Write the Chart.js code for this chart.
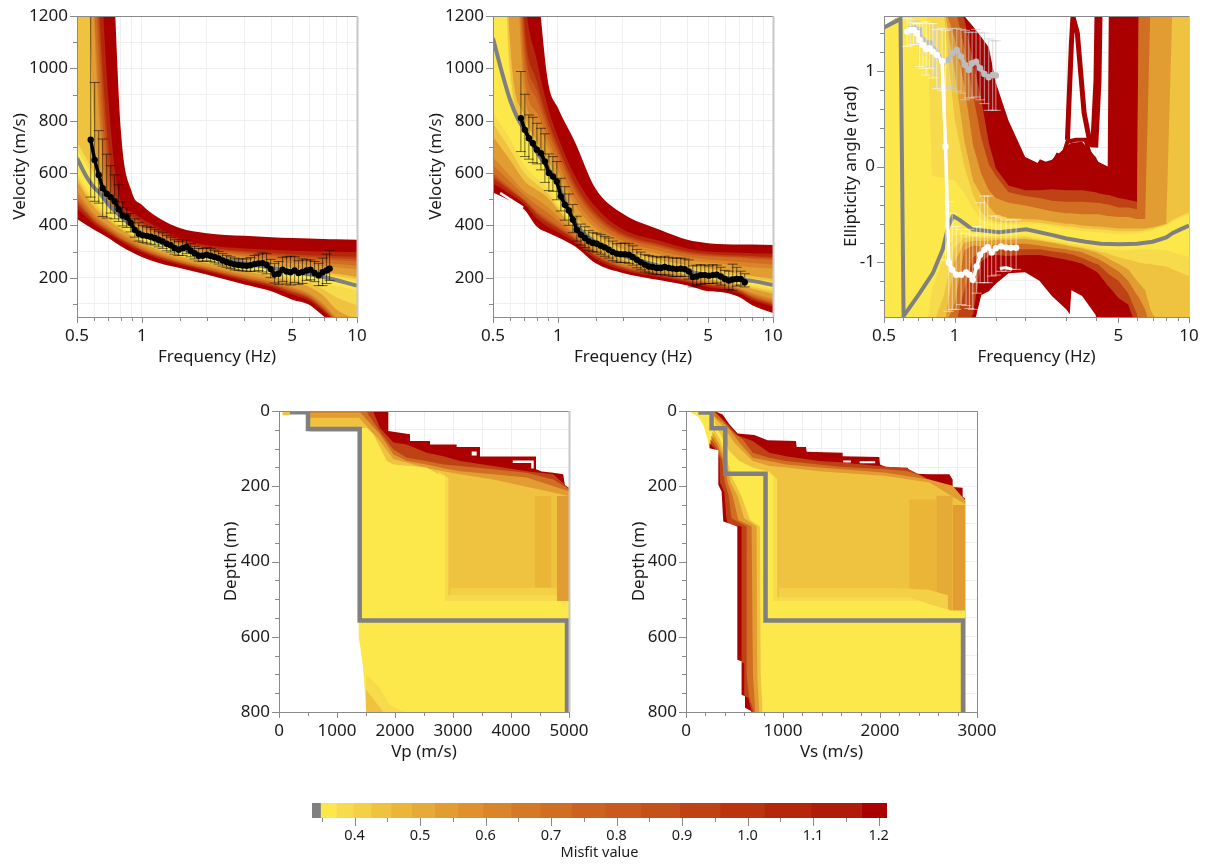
<!DOCTYPE html>
<html>
<head>
<meta charset="utf-8">
<title>Inversion results</title>
<script src="https://cdn.jsdelivr.net/npm/chart.js@4/dist/chart.umd.js"></script>
<style>
  html, body { margin: 0; padding: 0; background: #fff; }
  body { position: relative; width: 1210px; height: 865px; overflow: hidden; }
  canvas { position: absolute; }
</style>
</head>
<body>
<canvas id="rayleigh0"></canvas>
<canvas id="rayleigh1"></canvas>
<canvas id="ellipticity"></canvas>
<canvas id="vp"></canvas>
<canvas id="vs"></canvas>
<canvas id="misfit"></canvas>
<script>
// misfit colour bar
var misfitEdges = [0.335, 0.348, 0.372, 0.398, 0.4255, 0.4556, 0.487, 0.522, 0.557, 0.596, 0.639, 0.6835, 0.731, 0.7825, 0.837, 0.896, 0.958, 1.0255, 1.097, 1.174, 1.2128];
var misfitColors = ['#808080', '#fde84c', '#f7db4c', '#f3d045', '#efc33f', '#ebb638', '#e6aa36', '#e19d32', '#de912e', '#d9852a', '#d47a27', '#d06e22', '#cb6220', '#c9591c', '#c4501a', '#bf4214', '#ba340f', '#b5270b', '#b01c08', '#aa0000'];
var c = misfitColors.slice(1);

// grid of frequencies the misfit bands are read on
var bandFreq = [0.5, 0.6, 0.7, 0.8, 0.9, 1, 1.2, 1.5, 2, 3, 4, 5, 6, 7, 8, 10];

// first dispersion curve: bands
var r0Hi18 = [3000, 2500, 1800, 760, 526, 479, 428, 390, 370, 360, 355, 352, 350, 348, 347, 345];
var r0Lo18 = [424, 383, 352, 320, 297, 279, 256, 237, 212, 174, 148, 116, 97, 53, 20, 5];
var r0Hi16 = [3000, 1900, 880, 490, 450, 425, 390, 350, 325, 312, 307, 303, 301, 300, 299, 298];
var r0Lo16 = [465, 405, 368, 338, 315, 297, 272, 250, 225, 188, 165, 135, 112, 70, 30, 5];
var r0Hi14 = [3000, 1600, 700, 465, 435, 412, 382, 342, 317, 302, 295, 290, 286, 284, 282, 280];
var r0Lo14 = [482, 415, 376, 345, 322, 303, 278, 255, 230, 194, 171, 143, 120, 78, 35, 8];
var r0Hi12 = [3000, 1500, 630, 455, 428, 407, 377, 338, 313, 297, 289, 283, 279, 277, 274, 271];
var r0Lo12 = [491, 420, 380, 348, 326, 306, 281, 257, 232, 197, 174, 147, 124, 81, 37, 9];
var r0Hi10 = [3000, 1400, 560, 445, 420, 402, 372, 335, 310, 292, 283, 277, 272, 270, 267, 262];
var r0Lo10 = [500, 425, 385, 352, 330, 310, 285, 260, 235, 200, 178, 152, 128, 85, 40, 10];
var r0Hi8 = [3000, 1250, 510, 435, 412, 395, 365, 330, 305, 284, 272, 266, 260, 257, 253, 246];
var r0Lo8 = [515, 435, 392, 360, 337, 316, 290, 265, 240, 206, 184, 158, 134, 92, 45, 15];
var r0Hi6 = [3000, 1150, 480, 425, 405, 388, 358, 325, 300, 276, 262, 255, 250, 245, 240, 232];
var r0Lo6 = [530, 445, 400, 368, 345, 322, 295, 270, 245, 212, 190, 165, 140, 100, 50, 20];
var r0Hi3 = [3000, 790, 450, 410, 390, 372, 348, 315, 288, 265, 248, 238, 230, 222, 215, 203];
var r0Lo3 = [570, 470, 420, 385, 358, 335, 305, 280, 255, 225, 205, 185, 165, 130, 80, 40];
var r0Hi1 = [720, 600, 475, 415, 392, 368, 345, 312, 283, 260, 243, 232, 223, 215, 207, 194];
var r0Lo1 = [585, 485, 430, 392, 364, 341, 310, 285, 260, 231, 213, 195, 180, 155, 125, 95];
var r0Hi0 = [690, 580, 490, 425, 390, 365, 338, 308, 278, 255, 238, 226, 216, 208, 200, 185];
var r0Lo0 = [600, 500, 440, 400, 370, 348, 315, 290, 265, 238, 222, 205, 195, 180, 170, 150];
var r0BestF = [0.5, 0.55, 0.6, 0.64, 0.7, 0.8, 0.9, 1, 1.2, 1.5, 2, 3, 5, 7, 10];
var r0BestV = [657, 590, 545, 523, 480, 434, 398, 370, 337, 313, 282, 256, 224, 203, 170];
// first dispersion curve: observed
var r0F = [0.579, 0.604, 0.631, 0.658, 0.687, 0.717, 0.748, 0.781, 0.815, 0.851, 0.888, 0.927, 0.967, 1.01, 1.054, 1.10, 1.148, 1.198, 1.25, 1.305, 1.362, 1.42, 1.483, 1.548, 1.616, 1.686, 1.76, 1.837, 1.917, 2.0, 2.088, 2.18, 2.275, 2.374, 2.478, 2.586, 2.70, 2.817, 2.94, 3.07, 3.20, 3.34, 3.49, 3.64, 3.80, 3.97, 4.14, 4.32, 4.51, 4.71, 4.91, 5.13, 5.35, 5.58, 5.83, 6.08, 6.35, 6.63, 6.92, 7.22, 7.46];
var r0V = [727, 650, 593, 542, 521, 508, 492, 462, 438, 432, 409, 383, 368, 362, 360, 357, 352, 345, 339, 330, 324, 313, 307, 313, 318, 304, 294, 284, 284, 288, 284, 279, 274, 266, 260, 255, 251, 249, 247, 246, 248, 252, 255, 256, 250, 233, 213, 215, 231, 224, 221, 228, 218, 222, 228, 231, 218, 209, 221, 228, 235];
var r0Up = [1300, 946, 762, 730, 672, 628, 593, 555, 490, 468, 445, 425, 410, 400, 395, 392, 385, 378, 372, 362, 355, 345, 338, 345, 345, 330, 320, 312, 312, 315, 312, 305, 300, 292, 285, 280, 275, 272, 272, 272, 277, 285, 290, 295, 292, 270, 255, 262, 278, 280, 282, 280, 265, 272, 268, 268, 262, 255, 275, 290, 305];
var r0Down = [508, 492, 485, 434, 428, 447, 425, 415, 398, 392, 375, 355, 340, 335, 332, 328, 325, 318, 312, 303, 298, 290, 285, 285, 292, 280, 272, 264, 262, 265, 262, 257, 252, 245, 240, 235, 230, 228, 226, 225, 224, 225, 227, 222, 215, 200, 180, 175, 185, 176, 172, 182, 175, 178, 190, 192, 185, 170, 170, 178, 190];

// second dispersion curve: bands
var r1Hi18 = [3000, 2400, 1800, 1350, 950, 850, 720, 540, 445, 382, 345, 332, 328, 327, 327, 325];
var r1Lo18 = [526, 495, 460, 395, 372, 355, 320, 255, 218, 190, 170, 148, 143, 125, 95, 65];
var r1Hi16 = [3000, 2400, 1300, 1030, 850, 740, 590, 470, 385, 340, 312, 300, 297, 295, 294, 292];
var r1Lo16 = [560, 520, 480, 425, 395, 375, 335, 272, 230, 202, 183, 165, 155, 140, 115, 90];
var r1Hi14 = [3000, 2300, 1170, 950, 805, 705, 560, 447, 370, 327, 301, 291, 287, 285, 283, 280];
var r1Lo14 = [580, 532, 490, 440, 410, 387, 345, 281, 236, 207, 188, 171, 161, 146, 122, 97];
var r1Hi12 = [3000, 2250, 1110, 915, 782, 688, 545, 436, 362, 321, 295, 286, 282, 280, 277, 274];
var r1Lo12 = [590, 538, 495, 447, 417, 393, 350, 285, 239, 210, 190, 174, 164, 149, 126, 101];
var r1Hi10 = [3000, 2200, 1050, 880, 760, 670, 530, 425, 355, 315, 290, 282, 278, 276, 272, 268];
var r1Lo10 = [600, 545, 500, 455, 425, 400, 355, 290, 243, 213, 193, 177, 168, 152, 130, 105];
var r1Hi8 = [3000, 2100, 970, 830, 730, 640, 505, 407, 342, 302, 279, 270, 265, 260, 256, 251];
var r1Lo8 = [630, 567, 515, 477, 447, 417, 362, 297, 249, 219, 197, 181, 171, 156, 136, 112];
var r1Hi6 = [3000, 2000, 900, 790, 700, 610, 480, 390, 330, 290, 268, 258, 252, 245, 240, 235];
var r1Lo6 = [660, 590, 530, 500, 470, 435, 370, 305, 255, 225, 202, 185, 175, 160, 142, 120];
var r1Hi3 = [3000, 1100, 820, 720, 650, 570, 440, 365, 310, 268, 248, 235, 225, 215, 207, 195];
var r1Lo3 = [740, 650, 570, 535, 505, 460, 385, 318, 268, 235, 210, 193, 183, 172, 158, 140];
var r1Hi1 = [3000, 1000, 790, 695, 625, 545, 422, 345, 298, 257, 236, 223, 213, 205, 197, 185];
var r1Lo1 = [790, 690, 600, 557, 522, 470, 390, 322, 274, 237, 212, 196, 187, 177, 165, 150];
var r1Hi0 = [3000, 950, 770, 680, 610, 530, 410, 335, 290, 250, 228, 215, 205, 197, 190, 178];
var r1Lo0 = [830, 730, 630, 580, 540, 480, 395, 325, 280, 240, 215, 200, 192, 183, 172, 160];
var r1BestF = [0.5, 0.55, 0.6, 0.65, 0.7, 0.8, 0.9, 1, 1.2, 1.5, 2, 3, 4, 5, 6, 7, 8, 10];
var r1BestV = [1115, 985, 880, 810, 765, 680, 620, 555, 410, 335, 285, 245, 225, 210, 200, 193, 188, 172];
var r1SliverF = [0.54, 0.6, 0.69];
var r1SliverV = [524, 500, 468];
// second dispersion curve: observed
var r1F = [0.674, 0.703, 0.734, 0.766, 0.80, 0.835, 0.871, 0.909, 0.949, 0.990, 1.033, 1.078, 1.125, 1.175, 1.226, 1.28, 1.336, 1.394, 1.455, 1.518, 1.585, 1.654, 1.726, 1.80, 1.88, 1.962, 2.05, 2.14, 2.23, 2.33, 2.43, 2.54, 2.65, 2.76, 2.88, 3.01, 3.14, 3.28, 3.42, 3.57, 3.73, 3.89, 4.06, 4.24, 4.42, 4.62, 4.82, 5.03, 5.25, 5.48, 5.72, 5.97, 6.23, 6.50, 6.78, 7.08, 7.39];
var r1V = [810, 765, 733, 714, 689, 676, 644, 600, 587, 568, 511, 479, 457, 422, 383, 364, 352, 339, 333, 330, 322, 316, 307, 298, 292, 290, 290, 288, 279, 269, 259, 250, 243, 241, 237, 237, 241, 237, 235, 233, 235, 233, 224, 203, 205, 210, 210, 208, 210, 212, 205, 195, 189, 193, 195, 195, 183];
var r1Up = [988, 901, 822, 813, 790, 771, 750, 673, 663, 644, 580, 548, 520, 480, 435, 405, 395, 380, 372, 370, 365, 358, 352, 340, 330, 332, 332, 330, 322, 308, 298, 288, 285, 282, 280, 278, 282, 278, 275, 275, 275, 272, 268, 245, 248, 250, 248, 245, 250, 248, 240, 228, 225, 252, 240, 225, 215];
var r1Down = [682, 663, 653, 640, 635, 612, 564, 533, 530, 498, 455, 420, 400, 372, 340, 325, 315, 305, 300, 298, 290, 282, 275, 265, 260, 258, 258, 255, 248, 238, 230, 222, 218, 215, 212, 212, 210, 210, 205, 205, 205, 205, 195, 165, 172, 175, 178, 178, 178, 180, 172, 155, 155, 152, 168, 172, 165];

// ellipticity: bands, on a denser grid since the edges are sharp here
var ellFreq = [0.5, 0.6, 0.7, 0.76, 0.8, 0.9, 1, 1.1, 1.2, 1.3, 1.4, 1.5, 1.7, 2, 2.3, 2.6, 3, 3.1, 3.15, 3.5, 4, 4.1, 4.5, 4.55, 5, 5.5, 6, 6.1, 6.5, 6.85, 7, 8, 8.5, 10];
var eHi18 = [1.47, 1.6, 1.7, 1.7, 1.7, 1.7, 1.7, 1.58, 1.47, 1.36, 1.25, 0.88, 0.48, 0.1, 0.03, 0.07, 0.21, 0.24, 0.25, 0.26, 0.1, 0.05, 0, 1.7, 1.7, 1.7, 1.7, 1.7, 1.7, 1.7, 1.7, 1.7, 1.7, 1.7];
var eLo18 = [-1.7, -1.7, -1.7, -1.7, -1.7, -1.7, -1.7, -1.7, -1.7, -1.35, -1.31, -1.23, -1.12, -1.11, -1.2, -1.36, -1.5, -1.55, -1.3, -1.36, -1.56, -1.7, -1.7, -1.7, -1.7, -1.7, -1.7, -1.7, -1.7, -1.7, -1.7, -1.7, -1.7, -1.7];
var eHi14 = [1.47, 1.6, 1.7, 1.7, 1.7, 1.7, 1.7, 1.55, 1.1, 0.7, 0.25, -0.02, -0.2, -0.25, -0.25, -0.24, -0.25, -0.25, -0.25, -0.25, -0.27, -0.28, -0.3, -0.3, -0.33, -0.35, -0.37, 1.7, 1.7, 1.7, 1.7, 1.7, 1.7, 1.7];
var eLo14 = [-1.7, -1.7, -1.7, -1.7, -1.7, -1.7, -1.7, -1.7, -1.55, -1.0, -0.94, -0.93, -0.94, -0.93, -0.93, -0.95, -0.98, -0.99, -0.99, -1.02, -1.1, -1.12, -1.25, -1.26, -1.38, -1.45, -1.7, -1.7, -1.7, -1.7, -1.7, -1.7, -1.7, -1.7];
var eHi10 = [1.47, 1.6, 1.7, 1.7, 1.7, 1.7, 1.7, 1.25, 0.75, 0.3, 0.02, -0.1, -0.27, -0.31, -0.33, -0.36, -0.37, -0.37, -0.37, -0.37, -0.38, -0.38, -0.4, -0.4, -0.43, -0.43, -0.45, 1.7, 1.7, 1.7, 1.7, 1.7, 1.7, 1.7];
var eLo10 = [-1.7, -1.7, -1.7, -1.7, -1.7, -1.7, -1.7, -1.3, -0.95, -0.9, -0.88, -0.87, -0.87, -0.87, -0.87, -0.89, -0.91, -0.92, -0.92, -0.96, -1.02, -1.03, -1.12, -1.13, -1.2, -1.33, -1.55, -1.7, -1.7, -1.7, -1.7, -1.7, -1.7, -1.7];
var eHi6 = [1.47, 1.6, 1.7, 1.7, 1.7, 1.7, 1.35, 0.85, 0.22, -0.08, -0.25, -0.33, -0.38, -0.41, -0.44, -0.47, -0.49, -0.49, -0.49, -0.5, -0.5, -0.5, -0.52, -0.52, -0.53, -0.53, -0.55, -0.55, -0.55, 1.7, 1.7, 1.7, 1.7, 1.7];
var eLo6 = [-1.7, -1.7, -1.7, -1.7, -1.7, -1.7, -1.45, -0.88, -0.83, -0.84, -0.83, -0.82, -0.81, -0.81, -0.83, -0.85, -0.87, -0.88, -0.88, -0.9, -0.96, -0.97, -1.03, -1.04, -1.1, -1.2, -1.35, -1.37, -1.5, -1.7, -1.7, -1.7, -1.7, -1.7];
var eHi3 = [1.47, 1.6, 1.7, 1.7, 1.7, 1.7, 1.0, 0.27, -0.15, -0.3, -0.42, -0.5, -0.54, -0.55, -0.56, -0.58, -0.6, -0.6, -0.6, -0.62, -0.63, -0.63, -0.64, -0.64, -0.65, -0.65, -0.65, -0.65, -0.65, -0.64, -0.64, -0.6, 1.7, 1.7];
var eLo3 = [-1.7, -1.7, -1.7, -1.7, -1.7, -1.7, -1.0, -0.8, -0.78, -0.78, -0.78, -0.77, -0.77, -0.76, -0.78, -0.8, -0.83, -0.84, -0.84, -0.86, -0.9, -0.91, -0.96, -0.97, -1.02, -1.08, -1.2, -1.22, -1.3, -1.5, -1.55, -1.7, -1.7, -1.7];
var eHi1 = [1.47, 1.6, 1.7, 1.7, 1.7, 1.6, 0.5, 0, -0.3, -0.48, -0.55, -0.58, -0.59, -0.58, -0.59, -0.61, -0.63, -0.63, -0.63, -0.65, -0.66, -0.66, -0.67, -0.67, -0.68, -0.68, -0.68, -0.68, -0.67, -0.66, -0.65, -0.61, -0.56, -0.48];
var eLo1 = [-1.7, -1.7, -1.7, -1.7, -1.7, -1.35, -0.85, -0.75, -0.74, -0.75, -0.75, -0.75, -0.75, -0.74, -0.77, -0.79, -0.82, -0.83, -0.83, -0.85, -0.88, -0.89, -0.91, -0.92, -0.95, -0.98, -1.0, -1.01, -1.02, -1.02, -1.03, -1.05, -1.08, -1.15];
var eHi0 = [1.47, 1.6, 1.7, 1.7, -0.1, -0.12, -0.15, -0.28, -0.45, -0.55, -0.58, -0.6, -0.61, -0.6, -0.61, -0.63, -0.66, -0.66, -0.66, -0.68, -0.69, -0.69, -0.7, -0.7, -0.71, -0.71, -0.7, -0.7, -0.69, -0.68, -0.67, -0.62, -0.58, -0.5];
var eLo0 = [-1.7, -1.7, -1.7, -1.7, -1.3, -0.95, -0.72, -0.72, -0.72, -0.73, -0.73, -0.73, -0.73, -0.72, -0.75, -0.77, -0.8, -0.81, -0.81, -0.83, -0.85, -0.86, -0.87, -0.87, -0.88, -0.88, -0.87, -0.87, -0.87, -0.87, -0.87, -0.88, -0.9, -0.95];
// thin dark curves that stick out of the upper band
var eSpikeF = [3.03, 3.15, 3.2, 3.34, 3.57, 3.81];
var eSpikeV = [0.28, 1.29, 1.57, 1.40, 0.56, 0.21];
var eArchF = [2.22, 2.33, 2.49, 2.62, 2.75, 2.89, 3.03, 3.29, 3.62, 3.81];
var eArchV = [-0.03, 0.05, 0.02, 0.03, 0.12, 0.10, 0.26, 0.28, 0.28, 0.10];
var eSpike2F = [4.11, 4.07, 3.94];
var eSpike2V = [1.57, 0.9, 0.2];
var eHoleF = [1.56, 1.66, 1.76];
var eHoleV = [-1.07, -1.06, -1.08];
var eBestF = [0.5, 0.588, 0.606, 0.71, 0.808, 0.89, 0.94, 0.985, 1.05, 1.19, 1.55, 2.02, 2.62, 3, 3.62, 4.2, 5.03, 6, 7, 8, 8.5, 9.2, 10];
var eBestV = [1.46, 1.55, -1.57, -1.33, -1.12, -0.87, -0.63, -0.52, -0.56, -0.66, -0.69, -0.66, -0.72, -0.755, -0.79, -0.81, -0.815, -0.81, -0.79, -0.745, -0.70, -0.66, -0.62];
// ellipticity: observed, peak (white) and trough (light grey)
var ePeakF = [0.628, 0.647, 0.669, 0.691, 0.709, 0.733, 0.757, 0.782, 0.808, 0.840, 0.885, 0.915, 0.945, 0.977, 1.016, 1.066, 1.12, 1.157, 1.196, 1.243, 1.285, 1.34, 1.385, 1.44, 1.50, 1.578, 1.657, 1.74, 1.83];
var ePeakV = [1.416, 1.434, 1.434, 1.399, 1.329, 1.276, 1.234, 1.241, 1.206, 1.171, 1.108, 0.21, -1.007, -1.084, -1.136, -1.136, -1.112, -1.136, -1.189, -1.049, -0.927, -0.874, -0.846, -0.902, -0.857, -0.839, -0.85, -0.853, -0.853];
var ePeakUp = [1.556, 1.54, 1.51, 1.50, 1.50, 1.51, 1.52, 1.50, 1.50, 1.44, 1.45, 1.43, -0.37, -0.49, -0.63, -0.66, -0.70, -0.66, -0.72, -0.63, -0.38, -0.31, -0.31, -0.52, -0.52, -0.54, -0.56, -0.56, -0.56];
var ePeakDown = [1.26, 1.27, 1.28, 1.28, 1.05, 1.03, 0.96, 1.03, 0.93, 0.82, 0.80, -0.98, -1.52, -1.5, -1.5, -1.45, -1.46, -1.49, -1.5, -1.33, -1.22, -1.22, -1.22, -1.15, -1.14, -1.1, -1.1, -1.08, -1.08];
var eOtherF = [0.647, 0.675, 0.705, 0.733, 0.787, 0.821, 0.857, 0.897, 0.936, 0.977, 1.022, 1.066, 1.109, 1.15, 1.188, 1.235, 1.285, 1.34, 1.398, 1.454, 1.50];
var eOtherV = [1.444, 1.451, 1.434, 1.329, 1.294, 1.224, 1.154, 1.101, 1.119, 1.189, 1.224, 1.154, 1.066, 1.014, 1.084, 1.101, 1.031, 0.972, 0.937, 0.962, 0.955];
var eOtherUp = [1.54, 1.53, 1.52, 1.50, 1.52, 1.50, 1.45, 1.44, 1.44, 1.45, 1.45, 1.44, 1.43, 1.41, 1.41, 1.44, 1.41, 1.40, 1.34, 1.32, 1.32];
var eOtherDown = [1.27, 1.27, 1.28, 1.17, 1.05, 0.96, 0.84, 0.82, 0.84, 0.82, 0.79, 0.77, 0.70, 0.72, 0.72, 0.73, 0.70, 0.66, 0.59, 0.59, 0.59];

// Vp profile: each edge is velocity -> depth, painted down to 800 m
var vpDarkX = [530, 1885, 1885, 2258, 2258, 2603, 2603, 3063, 3063, 3466, 3466, 4431, 4431, 4530, 4730, 4900, 4930, 5000];
var vpDarkD = [0, 0, 53, 62, 80, 80, 89, 89, 96, 96, 121, 121, 155, 161, 164, 168, 199, 204];
var vpC14X = [530, 1620, 1742, 1972, 2201, 2546, 2834, 3121, 3696, 4270, 4730, 5000];
var vpC14D = [0, 0, 45, 84, 89, 111, 120, 133, 146, 160, 168, 206];
var vpC10X = [530, 1500, 1742, 1972, 2201, 2546, 2834, 3121, 3696, 4270, 4730, 5000];
var vpC10D = [0, 0, 55, 102, 124, 133, 142, 146, 155, 164, 182, 208];
var vpC6X = [530, 1400, 1742, 1972, 2201, 2546, 2834, 3121, 3696, 4270, 5000];
var vpC6D = [4, 4, 62, 115, 133, 142, 152, 160, 168, 177, 213];
var vpC3X = [530, 1380, 1742, 1972, 2201, 2546, 2834, 3121, 3696, 5000];
var vpC3D = [18, 18, 80, 128, 137, 152, 160, 168, 182, 226];
var vpStripe4X = [4414, 4700];
var vpStripe4D = [226, 226];
var vpStripe6X = [4790, 5000];
var vpStripe6D = [226, 226];
var vpC2X = [2950, 4790];
var vpC2D = [470, 470];
var vpC1X = [2748, 2920, 2920, 4790];
var vpC1D = [160, 178, 490, 490];
var vpC0X = [530, 1380, 1512, 1627, 1742, 1857, 1972, 2546, 2748, 2862, 2862, 5000];
var vpC0D = [46, 46, 45, 62, 97, 133, 142, 150, 168, 172, 505, 505];
var vpPatch1X = [1500, 1736, 1908, 2138, 2200];
var vpPatch1D = [700, 736, 780, 798, 800];
var vpPatch3X = [1500, 1650, 1800];
var vpPatch3D = [740, 770, 800];
var vpWhiteX = [0, 525, 525, 1374, 1374, 1420, 1450, 1505, 1505];
var vpWhiteD = [0, 0, 56, 56, 600, 648, 683, 798, 800];
var vpTopBitX = [57, 184];
var vpTopBitD = [0, 0];
var vpHoleX = [4030, 4370, 4370];
var vpHoleD = [135, 135, 153];
var vpHole2X = [3322, 3408];
var vpHole2D = [113, 113];
var vpBestX = [184, 500, 500, 1391, 1391, 4966, 4966];
var vpBestD = [3, 3, 48, 48, 557, 557, 800];

// Vs profile
var vsDarkX = [0, 292, 378, 447, 533, 704, 842, 1134, 1141, 1237, 1244, 1615, 1615, 1993, 2000, 2062, 2285, 2302, 2371, 2508, 2714, 2749, 2749, 2852, 2852, 2879];
var vsDarkD = [0, 0, 9, 35, 60, 64, 78, 80, 96, 96, 108, 111, 120, 122, 142, 149, 151, 160, 167, 168, 168, 182, 202, 204, 229, 232];
var vsC14X = [0, 292, 447, 533, 687, 859, 1031, 1374, 1615, 1993, 2285, 2400, 2508, 2749, 2852, 2879];
var vsC14D = [0, 0, 40, 65, 80, 111, 120, 133, 137, 146, 153, 168, 182, 204, 229, 233];
var vsC10X = [0, 300, 430, 500, 584, 687, 859, 1031, 1374, 1615, 2062, 2285, 2400, 2508, 2749, 2852, 2879];
var vsC10D = [3, 3, 40, 60, 75, 111, 124, 133, 142, 149, 155, 160, 170, 184, 208, 232, 235];
var vsC6X = [0, 300, 420, 480, 550, 687, 859, 1031, 1374, 2062, 2508, 2749, 2879];
var vsC6D = [15, 15, 40, 60, 84, 124, 133, 142, 150, 164, 182, 199, 238];
var vsC3X = [0, 290, 400, 460, 515, 687, 859, 1031, 1374, 2062, 2508, 2879];
var vsC3D = [18, 18, 45, 70, 89, 133, 146, 150, 160, 173, 190, 248];
var vsStripe4X = [2300, 2580];
var vsStripe4D = [235, 235];
var vsStripe5X = [2580, 2750];
var vsStripe5D = [225, 225];
var vsStripe6X = [2750, 2880];
var vsStripe6D = [250, 250];
var vsC2X = [960, 2100, 2500, 2700];
var vsC2D = [470, 470, 475, 490];
var vsC1X = [842, 940, 940, 2300, 2600, 2720];
var vsC1D = [158, 180, 495, 495, 520, 528];
var vsC0X = [0, 285, 300, 447, 550, 687, 842, 900, 900, 2400, 2720, 2880];
var vsC0D = [0, 0, 35, 106, 133, 150, 161, 172, 505, 505, 530, 530];
// lower left edges, painted from the inside out
var vsEdge3X = [280, 350, 400, 480, 570, 660, 762, 770, 790];
var vsEdge3D = [45, 75, 110, 180, 225, 290, 307, 700, 800];
var vsEdge6X = [270, 340, 400, 460, 530, 600, 728, 735, 755];
var vsEdge6D = [55, 85, 125, 190, 225, 285, 307, 700, 800];
var vsEdge10X = [260, 325, 385, 430, 480, 540, 676, 690, 715];
var vsEdge10D = [65, 90, 130, 190, 225, 290, 307, 700, 800];
var vsEdge14X = [250, 310, 370, 400, 440, 470, 625, 625, 650, 700];
var vsEdge14D = [75, 95, 130, 190, 225, 285, 307, 700, 760, 800];
var vsEdge18X = [240, 300, 345, 350, 395, 415, 430, 573, 573, 600, 600, 640, 680];
var vsEdge18D = [85, 100, 125, 190, 215, 280, 300, 307, 670, 670, 757, 762, 800];
var vsWhiteX = [0, 24, 127, 178, 220, 240, 333, 333, 367, 384, 529, 529, 573, 573, 608, 608, 676];
var vsWhiteD = [0, 0, 15, 37, 73, 99, 104, 196, 214, 294, 307, 661, 665, 754, 758, 789, 798];
var vsHoleX = [1620, 1700, null, 1790, 1950];
var vsHoleD = [134, 134, null, 136, 136];
var vsBestX = [127, 264, 264, 405, 405, 820, 820, 2856, 2856];
var vsBestD = [4, 4, 46, 46, 167, 167, 557, 557, 800];

var textColor = '#1a1a1a';
var axisColor = '#8a8a8a';
var gridColor = '#efefef';
var fontName = '"Noto Sans", sans-serif';
var bestGrey = '#808080';

function pts(xs, ys) {
  return xs.map(function(x, i) { return {x: x, y: ys[i]}; });
}

function band(xs, hi, lo, color, smooth) {
  var a = {data: pts(xs, hi), fill: '+1', backgroundColor: color, borderWidth: 0, showLine: true, pointRadius: 0};
  var b = {data: pts(xs, lo), fill: false, borderWidth: 0, showLine: true, pointRadius: 0};
  if (smooth) { a.cubicInterpolationMode = 'monotone'; b.cubicInterpolationMode = 'monotone'; }
  return [a, b];
}

// painted from the edge down to the bottom of the plot
function edge(xs, ds, color, target) {
  return {data: pts(xs, ds), fill: target || 'start', backgroundColor: color, borderWidth: 0, showLine: true, pointRadius: 0};
}

function stroke(xs, ys, color, width, smooth) {
  var d = {data: pts(xs, ys), fill: false, borderColor: color, borderWidth: width, showLine: true, pointRadius: 0, borderJoinStyle: 'miter', spanGaps: false};
  if (smooth) d.cubicInterpolationMode = 'monotone';
  return d;
}

function errorBars(xs, down, up, color) {
  var p = [];
  for (var i = 0; i < xs.length; i++) {
    p.push({x: xs[i], y: down[i]}, {x: xs[i], y: up[i]}, {x: xs[i], y: null});
  }
  return {data: p, fill: false, showLine: true, spanGaps: false, borderColor: color, borderWidth: 1, pointStyle: 'line', pointRadius: 5, pointBorderColor: color, pointBorderWidth: 1, pointBackgroundColor: color};
}

function curve(xs, ys, color) {
  return {data: pts(xs, ys), fill: false, showLine: true, borderColor: color, borderWidth: 3.5, pointRadius: 3.2, pointBorderWidth: 0, pointBackgroundColor: color};
}

// frame and tick marks, the plain grid ticks can only have one length
var tickMarks = {
  id: 'tickMarks',
  afterDraw: function(chart, args, opts) {
    var ctx = chart.ctx, a = chart.chartArea;
    ctx.save();
    ctx.lineWidth = 1;
    ctx.strokeStyle = axisColor;
    ['x', 'y'].forEach(function(id) {
      var s = chart.scales[id];
      if (!s.options.display) return;
      var len = opts[id];
      s.ticks.forEach(function(t, i) {
        var p = Math.round(s.getPixelForTick(i)) + 0.5;
        var l = t.label !== '' ? len[0] : len[1];
        ctx.beginPath();
        if (id === 'x') { ctx.moveTo(p, a.bottom); ctx.lineTo(p, a.bottom + l); }
        else { ctx.moveTo(a.left, p); ctx.lineTo(a.left - l, p); }
        ctx.stroke();
      });
    });
    if (opts.frame) {
      ctx.beginPath();
      ctx.moveTo(a.left + 0.5, a.top);
      ctx.lineTo(a.left + 0.5, a.bottom + 0.5);
      ctx.lineTo(a.right, a.bottom + 0.5);
      ctx.moveTo(a.left, a.top + 0.5);
      ctx.lineTo(a.right, a.top + 0.5);
      ctx.stroke();
      ctx.strokeStyle = opts.rightColor;
      ctx.lineWidth = opts.rightWidth;
      ctx.beginPath();
      ctx.moveTo(a.right + 0.5, a.top);
      ctx.lineTo(a.right + 0.5, a.bottom);
      ctx.stroke();
    }
    ctx.restore();
  }
};

function fixScale(size, key) {
  return function(s) {
    s[key] = size;
    s.paddingLeft = 0; s.paddingRight = 0; s.paddingTop = 0; s.paddingBottom = 0;
  };
}

var TOP_PAD = 12, RIGHT_PAD = 26;

function place(id, box) {
  var el = document.getElementById(id);
  el.width = box.leftW + (box.r - box.l) + RIGHT_PAD;
  el.height = TOP_PAD + (box.b - box.t) + box.botH;
  el.style.left = (box.l - box.leftW) + 'px';
  el.style.top = (box.t - TOP_PAD) + 'px';
  return el.getContext('2d');
}

function panel(id, box, datasets, xAxis, yAxis, rightColor, rightWidth) {
  // later datasets go on top
  datasets.forEach(function(d, i) { d.order = datasets.length - i; });
  var ctx = place(id, box);
  var tickFont = {family: fontName, size: 17};
  xAxis.position = 'bottom';
  xAxis.afterFit = fixScale(box.botH, 'height');
  xAxis.border = {display: false};
  xAxis.grid = {color: gridColor, drawTicks: false};
  xAxis.ticks = Object.assign({font: tickFont, color: textColor, padding: 9, autoSkip: false, maxRotation: 0, minRotation: 0, includeBounds: false}, xAxis.ticks);
  xAxis.title = {display: true, text: xAxis.label, font: tickFont, color: textColor, padding: 0};
  yAxis.position = 'left';
  yAxis.afterFit = fixScale(box.leftW, 'width');
  yAxis.border = {display: false};
  yAxis.grid = {color: gridColor, drawTicks: false};
  yAxis.ticks = Object.assign({font: tickFont, color: textColor, padding: 9, autoSkip: false, includeBounds: false}, yAxis.ticks);
  yAxis.title = {display: true, text: yAxis.label, font: tickFont, color: textColor, padding: 0};
  return new Chart(ctx, {
    type: 'scatter',
    data: {datasets: datasets},
    options: {
      responsive: false,
      animation: false,
      events: [],
      layout: {padding: {top: TOP_PAD, right: RIGHT_PAD, left: 0, bottom: 0}},
      elements: {line: {tension: 0}},
      scales: {x: xAxis, y: yAxis},
      plugins: {
        legend: {display: false},
        tooltip: {enabled: false},
        tickMarks: {x: [6, 4], y: [7, 4], frame: true, rightColor: rightColor, rightWidth: rightWidth}
      }
    },
    plugins: [tickMarks]
  });
}

function freqAxis() {
  return {
    type: 'logarithmic', min: 0.5, max: 10, label: 'Frequency (Hz)',
    ticks: {callback: function(v) { return [0.5, 1, 5, 10].indexOf(v) >= 0 ? String(v) : ''; }}
  };
}

function velocityAxis() {
  return {
    type: 'linear', min: 50, max: 1200, label: 'Velocity (m/s)',
    ticks: {stepSize: 100, callback: function(v) { return v % 200 === 0 ? String(v) : ''; }}
  };
}

function depthAxis() {
  return {
    type: 'linear', min: 0, max: 800, reverse: true, label: 'Depth (m)',
    ticks: {stepSize: 50, callback: function(v) { return v % 200 === 0 ? String(v) : ''; }}
  };
}

function init() {
  var r0 = [].concat(
    band(bandFreq, r0Hi18, r0Lo18, c[18], true),
    band(bandFreq, r0Hi16, r0Lo16, c[16], true),
    band(bandFreq, r0Hi14, r0Lo14, c[14], true),
    band(bandFreq, r0Hi12, r0Lo12, c[12], true),
    band(bandFreq, r0Hi10, r0Lo10, c[10], true),
    band(bandFreq, r0Hi8, r0Lo8, c[8], true),
    band(bandFreq, r0Hi6, r0Lo6, c[6], true),
    band(bandFreq, r0Hi3, r0Lo3, c[3], true),
    band(bandFreq, r0Hi1, r0Lo1, c[1], true),
    band(bandFreq, r0Hi0, r0Lo0, c[0], true),
    [stroke(r0BestF, r0BestV, bestGrey, 4, true),
     errorBars(r0F, r0Down, r0Up, 'rgba(0,0,0,0.55)'),
     curve(r0F, r0V, '#000')]
  );
  panel('rayleigh0', {l: 77, r: 357, t: 16, b: 317, leftW: 67, botH: 50}, r0, freqAxis(), velocityAxis(), '#c8c8c8', 2);

  var r1 = [].concat(
    band(bandFreq, r1Hi18, r1Lo18, c[18], true),
    [stroke(r1SliverF, r1SliverV, '#fff', 2.5)],
    band(bandFreq, r1Hi16, r1Lo16, c[16], true),
    band(bandFreq, r1Hi14, r1Lo14, c[14], true),
    band(bandFreq, r1Hi12, r1Lo12, c[12], true),
    band(bandFreq, r1Hi10, r1Lo10, c[10], true),
    band(bandFreq, r1Hi8, r1Lo8, c[8], true),
    band(bandFreq, r1Hi6, r1Lo6, c[6], true),
    band(bandFreq, r1Hi3, r1Lo3, c[3], true),
    band(bandFreq, r1Hi1, r1Lo1, c[1], true),
    band(bandFreq, r1Hi0, r1Lo0, c[0], true),
    [stroke(r1BestF, r1BestV, bestGrey, 4, true),
     errorBars(r1F, r1Down, r1Up, 'rgba(0,0,0,0.55)'),
     curve(r1F, r1V, '#000')]
  );
  panel('rayleigh1', {l: 493, r: 773, t: 16, b: 317, leftW: 67, botH: 50}, r1, freqAxis(), velocityAxis(), '#c8c8c8', 2);

  var ell = [].concat(
    band(ellFreq, eHi18, eLo18, c[18]),
    [stroke(eSpikeF, eSpikeV, c[18], 5),
     stroke(eArchF, eArchV, c[18], 4),
     stroke(eSpike2F, eSpike2V, c[18], 8),
     stroke(eHoleF, eHoleV, '#fff', 3)],
    band(ellFreq, eHi14, eLo14, c[14]),
    band(ellFreq, eHi10, eLo10, c[10]),
    band(ellFreq, eHi6, eLo6, c[6]),
    band(ellFreq, eHi3, eLo3, c[3]),
    band(ellFreq, eHi1, eLo1, c[1]),
    band(ellFreq, eHi0, eLo0, c[0]),
    [stroke(eBestF, eBestV, bestGrey, 4),
     errorBars(eOtherF, eOtherDown, eOtherUp, 'rgba(205,205,205,0.7)'),
     curve(eOtherF, eOtherV, '#bdbdbd'),
     errorBars(ePeakF, ePeakDown, ePeakUp, 'rgba(255,255,255,0.55)'),
     curve(ePeakF, ePeakV, '#fff')]
  );
  panel('ellipticity', {l: 884, r: 1189, t: 16, b: 317, leftW: 43, botH: 50}, ell, freqAxis(), {
    type: 'linear', min: -1.58, max: 1.58, label: 'Ellipticity angle (rad)',
    ticks: {stepSize: 0.2, callback: function(v) { return Math.abs(v - Math.round(v)) < 1e-6 ? String(Math.round(v)) : ''; }}
  }, '#c8c8c8', 1);

  var vp = [
    edge(vpDarkX, vpDarkD, c[18]),
    stroke(vpHoleX, vpHoleD, '#fff', 2.5),
    stroke(vpHole2X, vpHole2D, '#fff', 4),
    edge(vpC14X, vpC14D, c[14]),
    edge(vpC10X, vpC10D, c[10]),
    edge(vpC6X, vpC6D, c[6]),
    edge(vpC3X, vpC3D, c[3]),
    edge(vpStripe4X, vpStripe4D, c[4]),
    edge(vpStripe6X, vpStripe6D, c[6]),
    edge(vpC2X, vpC2D, c[2]),
    edge(vpC1X, vpC1D, c[1]),
    edge(vpC0X, vpC0D, c[0]),
    edge(vpPatch1X, vpPatch1D, c[1]),
    edge(vpPatch3X, vpPatch3D, c[3]),
    edge(vpWhiteX, vpWhiteD, '#fff'),
    edge(vpTopBitX, vpTopBitD, c[3], {value: 11}),
    stroke(vpBestX, vpBestD, bestGrey, 4.5)
  ];
  panel('vp', {l: 279, r: 569, t: 411, b: 712, leftW: 58, botH: 50}, vp, {
    type: 'linear', min: 0, max: 5000, label: 'Vp (m/s)',
    ticks: {stepSize: 500, callback: function(v) { return v % 1000 === 0 ? String(v) : ''; }}
  }, depthAxis(), '#c8c8c8', 2);

  var vs = [
    edge(vsDarkX, vsDarkD, c[18]),
    stroke(vsHoleX, vsHoleD, '#fff', 2),
    edge(vsC14X, vsC14D, c[14]),
    edge(vsC10X, vsC10D, c[10]),
    edge(vsC6X, vsC6D, c[6]),
    edge(vsC3X, vsC3D, c[3]),
    edge(vsStripe4X, vsStripe4D, c[4]),
    edge(vsStripe5X, vsStripe5D, c[5]),
    edge(vsStripe6X, vsStripe6D, c[6]),
    edge(vsC2X, vsC2D, c[2]),
    edge(vsC1X, vsC1D, c[1]),
    edge(vsC0X, vsC0D, c[0]),
    edge(vsEdge3X, vsEdge3D, c[3]),
    edge(vsEdge6X, vsEdge6D, c[6]),
    edge(vsEdge10X, vsEdge10D, c[10]),
    edge(vsEdge14X, vsEdge14D, c[14]),
    edge(vsEdge18X, vsEdge18D, c[18]),
    edge(vsWhiteX, vsWhiteD, '#fff'),
    stroke(vsBestX, vsBestD, bestGrey, 4.5)
  ];
  panel('vs', {l: 686, r: 977, t: 411, b: 712, leftW: 57, botH: 50}, vs, {
    type: 'linear', min: 0, max: 3000, label: 'Vs (m/s)',
    ticks: {stepSize: 200, callback: function(v) { return v % 1000 === 0 ? String(v) : ''; }}
  }, depthAxis(), axisColor, 1);

  drawMisfitBar();
}

function drawMisfitBar() {
  var box = {l: 312, r: 887, t: 803, b: 818, leftW: 0, botH: 44};
  var ctx = place('misfit', box);
  var font = {family: fontName, size: 14.5};
  var bars = misfitColors.map(function(col, i) {
    return {data: [[misfitEdges[i], misfitEdges[i + 1]]], backgroundColor: col, borderWidth: 0, barPercentage: 1, categoryPercentage: 1, grouped: false};
  });
  new Chart(ctx, {
    type: 'bar',
    data: {labels: [''], datasets: bars},
    options: {
      indexAxis: 'y',
      responsive: false,
      animation: false,
      events: [],
      layout: {padding: {top: TOP_PAD, right: RIGHT_PAD, left: 0, bottom: 0}},
      scales: {
        x: {
          type: 'linear', position: 'bottom', min: misfitEdges[0], max: misfitEdges[misfitEdges.length - 1],
          afterFit: fixScale(box.botH, 'height'),
          border: {display: false},
          grid: {display: false, drawTicks: false},
          ticks: {
            font: font, color: textColor, padding: 9, autoSkip: false, maxRotation: 0, minRotation: 0, includeBounds: false, stepSize: 0.05,
            callback: function(v) { return Math.abs(v * 10 - Math.round(v * 10)) < 1e-6 ? v.toFixed(1) : ''; }
          },
          title: {display: true, text: 'Misfit value', font: font, color: textColor, padding: 0}
        },
        y: {display: false}
      },
      plugins: {
        legend: {display: false},
        tooltip: {enabled: false},
        tickMarks: {x: [8, 4], y: [0, 0], frame: false}
      }
    },
    plugins: [tickMarks]
  });
}

window.onload = init;
</script>
</body>
</html>
